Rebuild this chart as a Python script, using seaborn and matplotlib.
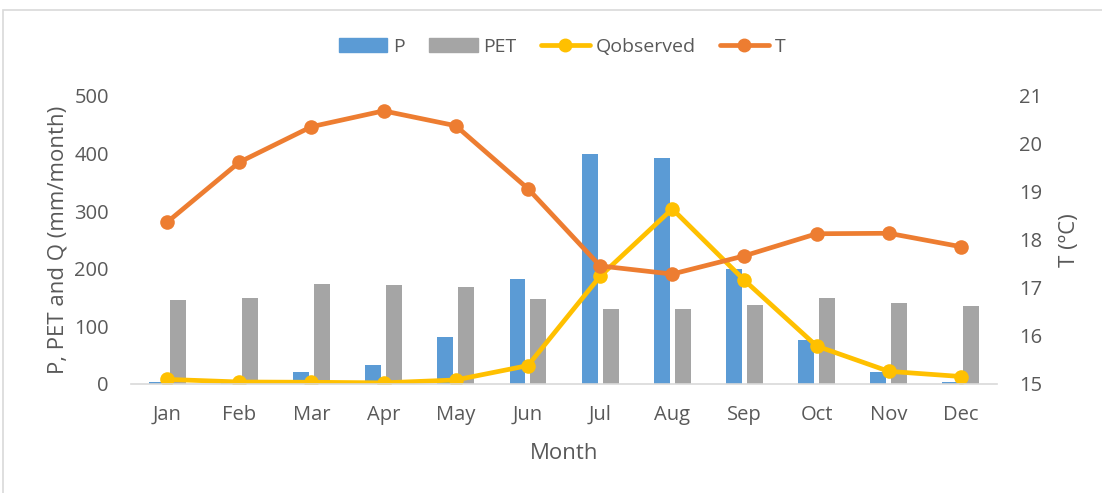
import numpy as np
import pandas as pd
import matplotlib
matplotlib.use("Agg")
import matplotlib.pyplot as plt
import seaborn as sns
from matplotlib.lines import Line2D
from matplotlib.patches import Patch, Rectangle

sns.set_theme(style="white")
plt.rcParams['font.family'] = ['Open Sans', 'DejaVu Sans']

months = ["Jan", "Feb", "Mar", "Apr", "May", "Jun", "Jul", "Aug", "Sep", "Oct", "Nov", "Dec"]
p = [4, 1, 21, 33, 82, 182, 400, 393, 200, 76, 21, 4]
pet = [145, 149, 174, 171, 168, 147, 131, 131, 137, 149, 141, 135]
q_obs = [8, 3.5, 3, 2, 7, 32, 187, 304, 180, 66, 22, 13]
temp = [18.37, 19.62, 20.36, 20.69, 20.38, 19.07, 17.46, 17.29, 17.67, 18.13, 18.14, 17.86]

c_p, c_pet, c_q, c_t = "#5B9BD5", "#A5A5A5", "#FFC000", "#ED7D31"
txt = "#595959"

bars = pd.DataFrame({"Month": months * 2,
                     "value": p + pet,
                     "var": ["P"] * 12 + ["PET"] * 12})

fig = plt.figure(figsize=(11.02, 4.93), dpi=100)
ax = fig.add_axes([0.1189, 0.2211, 0.7858, 0.5842])

sns.barplot(data=bars, x="Month", y="value", hue="var", order=months,
            palette=[c_p, c_pet], width=0.58, gap=0.24, ax=ax, legend=False,
            saturation=1, linewidth=0)
sns.lineplot(x=np.arange(12), y=q_obs, color=c_q, lw=3.4, marker="o",
             markersize=10.5, markeredgewidth=0, ax=ax)

ax2 = ax.twinx()
sns.lineplot(x=np.arange(12), y=temp, color=c_t, lw=3.4, marker="o",
             markersize=10.5, markeredgewidth=0, ax=ax2)

ax.set_xlim(-0.5, 11.5)
ax.set_ylim(0, 500)
ax2.set_ylim(15, 21)
ax.set_yticks(range(0, 501, 100))
ax2.set_yticks(range(15, 22))

for a in (ax, ax2):
    for s in a.spines.values():
        s.set_visible(False)
    a.tick_params(length=0, labelsize=14.5, labelcolor=txt)
ax.spines["bottom"].set_visible(True)
ax.spines["bottom"].set_color("#D9D9D9")
ax.spines["bottom"].set_linewidth(1.2)
ax.tick_params(axis="x", pad=15)
ax.tick_params(axis="y", pad=16)
ax2.tick_params(axis="y", pad=16)

ax.set_xlabel("Month", fontsize=16, color=txt, labelpad=13)
ax.set_ylabel("P, PET and Q (mm/month)", fontsize=16, color=txt, labelpad=4)
ax2.set_ylabel("T (ºC)", fontsize=16, color=txt, labelpad=12)

handles = [Patch(color=c_p, label="P"),
           Patch(color=c_pet, label="PET"),
           Line2D([], [], color=c_q, lw=3.4, marker="o", markersize=9, label="Qobserved"),
           Line2D([], [], color=c_t, lw=3.4, marker="o", markersize=9, label="T")]
leg = fig.legend(handles=handles, loc="center", bbox_to_anchor=(0.51, 0.905), ncol=4,
                 frameon=False, fontsize=14, handlelength=2.5, handletextpad=0.3,
                 columnspacing=1.25, numpoints=1)
for t in leg.get_texts():
    t.set_color(txt)

# chart frame
fig.patches.append(Rectangle((3 / 1102, -0.1), 1.2, 1 - 10 / 493 + 0.1,
                             transform=fig.transFigure, fill=False,
                             edgecolor="#D9D9D9", lw=1.2))

fig.savefig("out.png", dpi=100, facecolor="white")
